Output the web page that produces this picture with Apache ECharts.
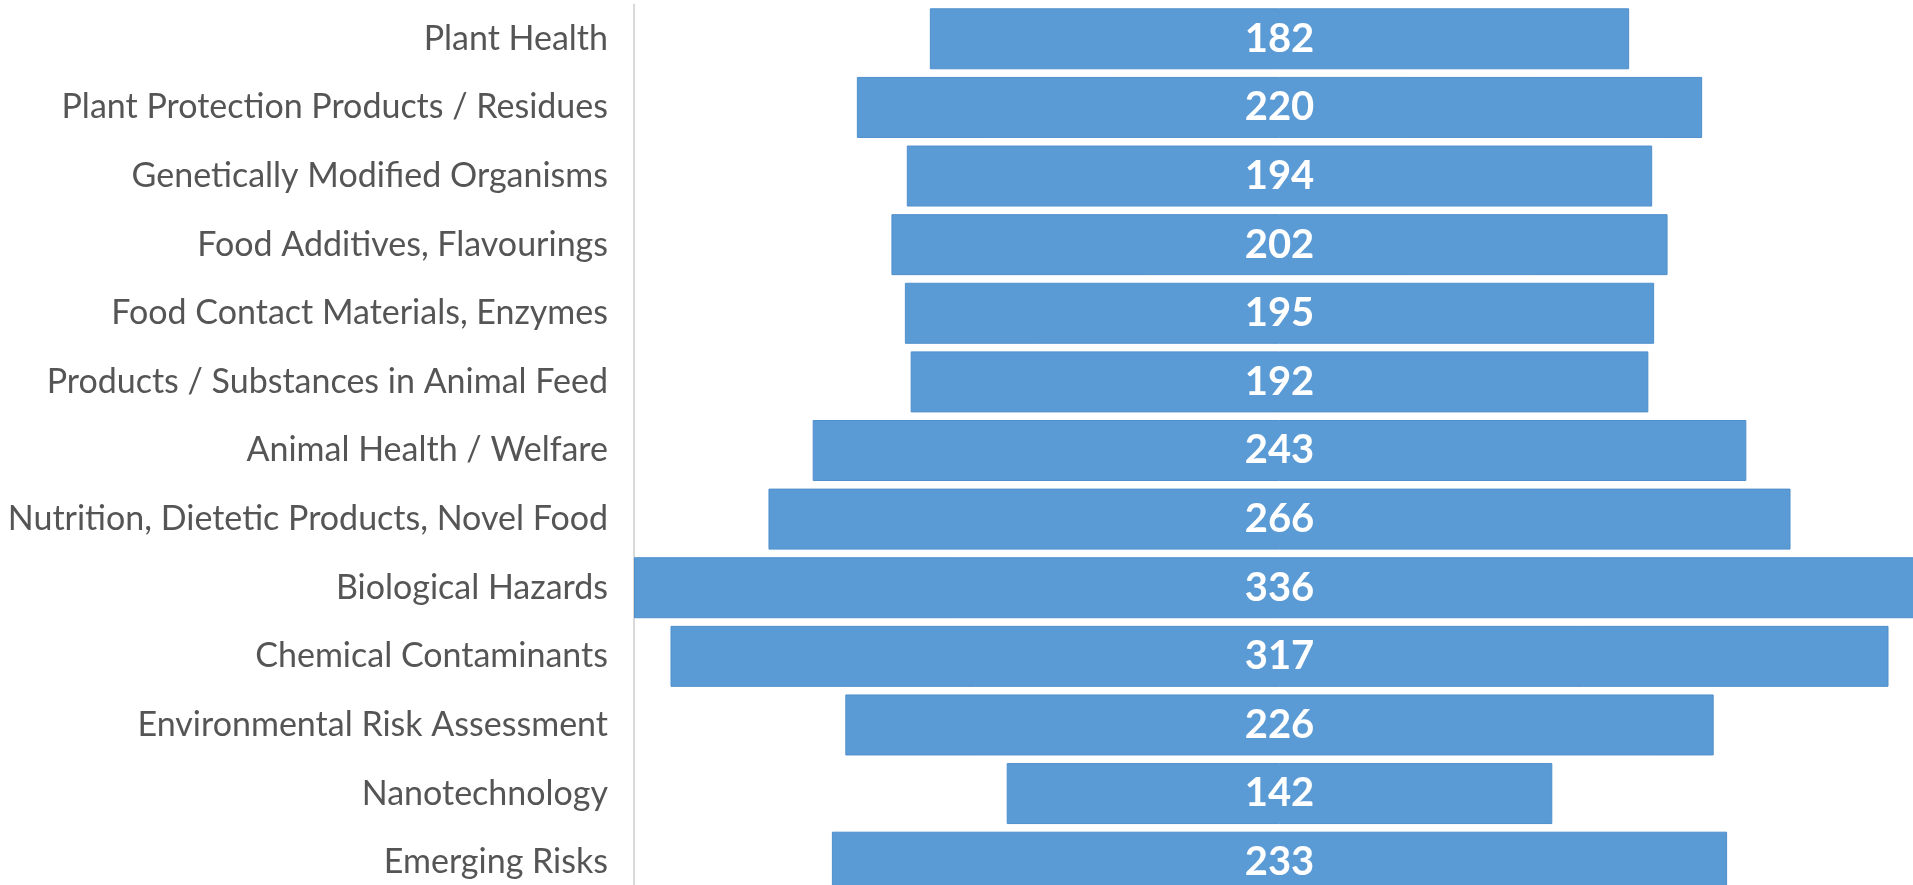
<!DOCTYPE html>
<html>
<head>
<meta charset="utf-8">
<script src="https://cdn.jsdelivr.net/npm/echarts@6/dist/echarts.min.js"></script>
<style>
  html, body { margin: 0; padding: 0; background: #fff; }
  #chart { width: 1913px; height: 885px; }
</style>
</head>
<body>
<div id="chart"></div>
<script>
// categories, top to bottom
const categories = [
  "Plant Health",
  "Plant Protection Products / Residues",
  "Genetically Modified Organisms",
  "Food Additives, Flavourings",
  "Food Contact Materials, Enzymes",
  "Products / Substances in Animal Feed",
  "Animal Health / Welfare",
  "Nutrition, Dietetic Products, Novel Food",
  "Biological Hazards",
  "Chemical Contaminants",
  "Environmental Risk Assessment",
  "Nanotechnology",
  "Emerging Risks"
];
const counts = [182, 220, 194, 202, 195, 192, 243, 266, 336, 317, 226, 142, 233];

// invisible spacer so every bar is centred on the widest one
const widest = Math.max(...counts);
const spacer = counts.map((v) => (widest - v) / 2);

const chart = echarts.init(document.getElementById("chart"), null, { renderer: "canvas" });

const option = {
  animation: false,
  // grid runs past the right and bottom edges, like the cropped original
  grid: { left: 634, top: 4.5, width: 1291, height: 892, outerBoundsMode: "none", containLabel: false },
  xAxis: {
    type: "value",
    min: 0,
    max: widest,
    show: false
  },
  yAxis: {
    type: "category",
    data: categories,
    inverse: true,
    axisLine: { show: true, lineStyle: { color: "#d9d9d9", width: 2 } },
    axisTick: { show: false },
    splitLine: { show: false },
    axisLabel: {
      margin: 26,
      color: "#555555",
      fontFamily: "Lato",
      fontSize: 34
    }
  },
  series: [
    {
      name: "spacer",
      type: "bar",
      stack: "total",
      data: spacer,
      barWidth: 61,
      itemStyle: { color: "transparent" },
      silent: true
    },
    {
      name: "count",
      type: "bar",
      stack: "total",
      data: counts,
      barWidth: 61,
      clip: false,
      itemStyle: { color: "#5b9bd5", borderColor: "#4f8fcc", borderWidth: 1 },
      label: {
        show: true,
        position: "inside",
        color: "#ffffff",
        fontFamily: "Lato",
        fontWeight: "bold",
        fontSize: 40
      }
    }
  ]
};

chart.setOption(option);
</script>
</body>
</html>
